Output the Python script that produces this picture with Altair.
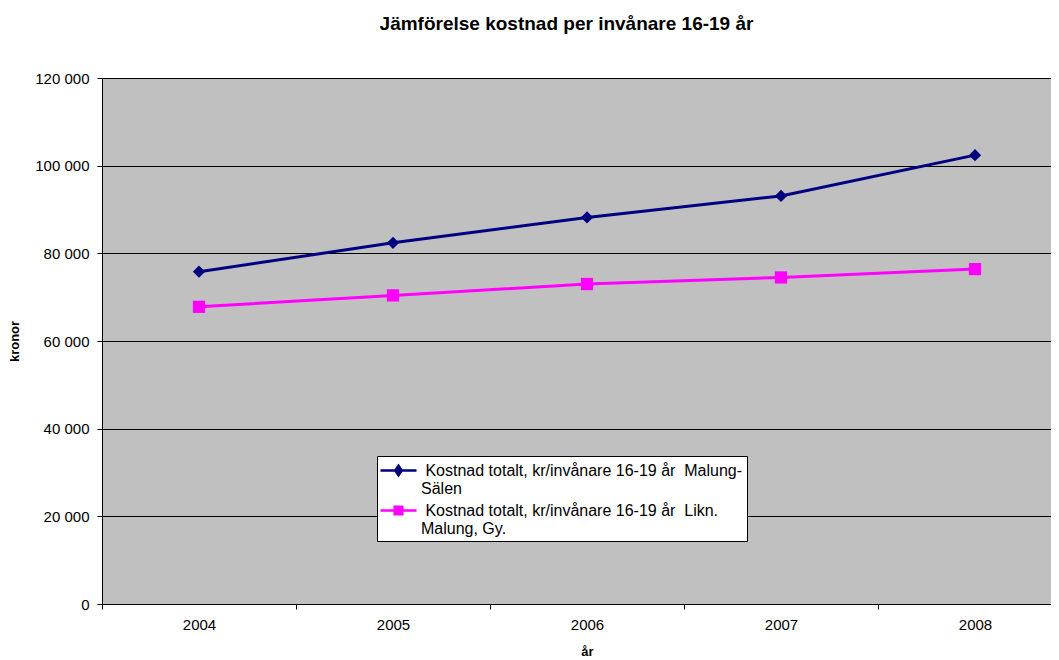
import altair as alt
import pandas as pd

# ---- data ----
years = [2004, 2005, 2006, 2007, 2008]
malung_salen = [75800, 82400, 88200, 93100, 102400]
likn_malung = [67800, 70400, 73000, 74500, 76400]
series_names = [
    "Kostnad totalt, kr/invånare 16-19 år  Malung-Sälen",
    "Kostnad totalt, kr/invånare 16-19 år  Likn. Malung, Gy.",
]
legend_lines = [
    ["\u200b\u00a0Kostnad totalt, kr/invånare 16-19 år\u00a0\u00a0Malung-", "Sälen"],
    ["\u200b\u00a0Kostnad totalt, kr/invånare 16-19 år\u00a0\u00a0Likn.", "Malung, Gy."],
]
series_colors = ["#000080", "#FF00FF"]
series_shapes = ["diamond", "square"]
y_ticks = [0, 20000, 40000, 60000, 80000, 100000, 120000]

rows = []
for name, vals in zip(series_names, [malung_salen, likn_malung]):
    for yr, v in zip(years, vals):
        rows.append({"year": yr, "value": v, "series": name})
df = pd.DataFrame(rows)

FONT = "Liberation Sans"


def js_arr(lines):
    return "[" + ",".join("'" + l.replace("'", "\\'") + "'" for l in lines) + "]"


label_expr = "datum.label == '{}' ? {} : {}".format(
    series_names[0], js_arr(legend_lines[0]), js_arr(legend_lines[1])
)

# legend symbols: line segment with marker
legend_paths = [
    "M-2,0L2,0M0,-0.52L0.36,0L0,0.52L-0.36,0Z",
    "M-2,0L2,0M-0.42,-0.42L0.42,-0.42L0.42,0.42L-0.42,0.42Z",
]

color_scale = alt.Scale(domain=series_names, range=series_colors)

x_enc = alt.X(
    "year:O",
    bandPosition=0.5,
    scale=alt.Scale(type="band", paddingInner=0, paddingOuter=0, range=[0, 970]),
    axis=alt.Axis(
        title="år",
        tickBand="extent",
        labelAngle=0,
        grid=False,
        labelFont=FONT,
        labelFontSize=15,
        labelColor="black",
        labelPadding=8,
        tickSize=5,
        tickColor="black",
        domainColor="black",
        titleFont=FONT,
        titleFontSize=13,
        titleFontWeight="bold",
        titleColor="black",
        titlePadding=13,
    ),
)
y_enc = alt.Y(
    "value:Q",
    scale=alt.Scale(domain=[0, 120000], nice=False),
    axis=alt.Axis(
        values=y_ticks,
        title="kronor",
        labelExpr="replace(format(datum.value, ','), ',', ' ')",
        grid=True,
        gridColor="black",
        gridWidth=1,
        labelFont=FONT,
        labelFontSize=15,
        labelColor="black",
        labelPadding=8,
        tickSize=5,
        tickColor="black",
        domainColor="black",
        titleFont=FONT,
        titleFontSize=13,
        titleFontWeight="bold",
        titleColor="black",
        titlePadding=13,
    ),
)

legend_def = alt.Legend(
    title=None,
    orient="none",
    legendX=275,
    legendY=378,
    fillColor="white",
    strokeColor="black",
    padding=4,
    labelFont=FONT,
    labelFontSize=16,
    labelColor="black",
    labelLimit=0,
    labelExpr=label_expr,
    symbolSize=324,
    symbolStrokeWidth=2.5,
    symbolOpacity=1,
    symbolOffset=7,
    labelOffset=12,
    rowPadding=3,
)

base = alt.Chart(df)

# legend source layer (draws no marks, only supplies the legend)
legend_src = (
    base.transform_filter("false")
    .mark_point(filled=True, opacity=1)
    .encode(
        x=x_enc,
        y=y_enc,
        color=alt.Color("series:N", scale=color_scale, legend=legend_def),
        shape=alt.Shape("series:N", scale=alt.Scale(domain=series_names, range=legend_paths), legend=legend_def),
        stroke=alt.Stroke("series:N", scale=color_scale, legend=legend_def),
    )
)

layers = [legend_src]
for name, col in zip(series_names, series_colors):
    layers.append(
        base.transform_filter(alt.datum.series == name)
        .mark_line(strokeWidth=3, color=col)
        .encode(x=x_enc, y=y_enc)
    )
for name, col, shp in zip(series_names, series_colors, series_shapes):
    layers.append(
        base.transform_filter(alt.datum.series == name)
        .mark_point(shape=shp, filled=True, size=150, opacity=1, color=col)
        .encode(x=x_enc, y=y_enc)
    )

chart = (
    alt.layer(*layers)
    .properties(
        width=949,
        height=526,
        autosize=alt.AutoSizeParams(type="none"),
        padding={"left": 94, "top": 70, "right": 0, "bottom": 56},
        title=alt.Title(
            "Jämförelse kostnad per invånare 16-19 år",
            font=FONT,
            fontSize=19,
            fontWeight="bold",
            color="black",
            anchor="middle",
            dx=-10,
            offset=37,
        ),
    )
    .configure_view(fill="#C0C0C0", stroke=None)
)

chart.save("out.html", embed_options={"renderer": "svg", "actions": False})
